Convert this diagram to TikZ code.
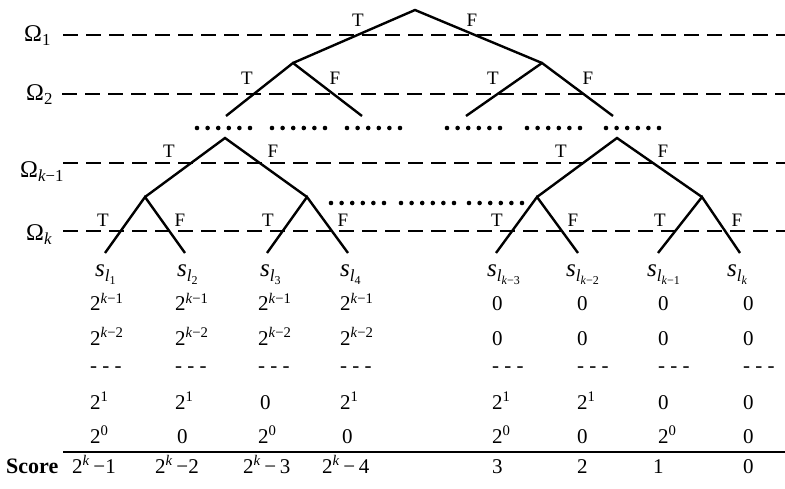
\documentclass[tikz,border=0pt]{standalone}
\usepackage{fontspec}
\setmainfont{Liberation Serif}
\newcommand\leafsym[1]{\textit{s}\raisebox{-5pt}{\fontsize{17}{17}\selectfont\textit{l}\raisebox{-2pt}{\fontsize{12}{12}\selectfont #1}}}
\begin{document}
\begin{tikzpicture}[x=1pt,y=-1pt,
  edge/.style={line width=2.4pt},
  level/.style={line width=1.9pt,dash pattern=on 15pt off 8pt},
  tf/.style={font=\fontsize{19}{19}\selectfont,anchor=base,inner sep=0pt},
  om/.style={font=\fontsize{24}{24}\selectfont,anchor=base west,inner sep=0pt},
  cell/.style={font=\fontsize{21}{21}\selectfont,anchor=base west,inner sep=0pt},
  leaf/.style={font=\fontsize{25}{25}\selectfont,anchor=base west,inner sep=0pt},
  dotf/.style={fill=black,draw=none}]
\useasboundingbox (0,0) rectangle (785,489);
% level lines
\coordinate (L1a) at (63,35);   \coordinate (L1b) at (785,35);
\coordinate (L2a) at (62,94);   \coordinate (L2b) at (785,94);
\coordinate (L3a) at (63,163);  \coordinate (L3b) at (785,163);
\coordinate (L4a) at (63,231);  \coordinate (L4b) at (785,231);
\draw[level] (L1a) -- (L1b);
\draw[level] (L2a) -- (L2b);
\draw[level] (L3a) -- (L3b);
\draw[level] (L4a) -- (L4b);
\node[om] (o1) at (24,42) {Ω\textsubscript{1}};
\node[om] (o2) at (26,101) {Ω\textsubscript{2}};
\node[om] (o3) at (20,178) {Ω\textsubscript{\textit{k}−1}};
\node[om] (o4) at (26,241) {Ω\textsubscript{\textit{k}}};
% tree
\coordinate (r) at (415,10);
\coordinate (a) at (293,63);  \coordinate (b) at (542,63);
\coordinate (a1) at (226,116); \coordinate (a2) at (362,116);
\coordinate (b1) at (466,116); \coordinate (b2) at (613,116);
\coordinate (c) at (225,138); \coordinate (d) at (617,138);
\coordinate (c1) at (145,197); \coordinate (c2) at (307,197);
\coordinate (d1) at (537,197); \coordinate (d2) at (702,197);
\coordinate (e1) at (105,253); \coordinate (e2) at (185,253);
\coordinate (e3) at (267,253); \coordinate (e4) at (348,253);
\coordinate (e5) at (496,253); \coordinate (e6) at (578,253);
\coordinate (e7) at (658,253); \coordinate (e8) at (740,253);
\draw[edge] (a) -- (r) -- (b);
\draw[edge] (a1) -- (a) -- (a2);
\draw[edge] (b1) -- (b) -- (b2);
\draw[edge] (c1) -- (c) -- (c2);
\draw[edge] (d1) -- (d) -- (d2);
\draw[edge] (e1) -- (c1) -- (e2);
\draw[edge] (e3) -- (c2) -- (e4);
\draw[edge] (e5) -- (d1) -- (e6);
\draw[edge] (e7) -- (d2) -- (e8);
% T/F labels
\node[tf] (t1) at (358,27) {T};  \node[tf] (f1) at (472,27) {F};
\node[tf] (t2) at (247,85) {T};  \node[tf] (f2) at (335,85) {F};
\node[tf] (t3) at (493,85) {T};  \node[tf] (f3) at (588,85) {F};
\node[tf] (t4) at (169,158) {T}; \node[tf] (f4) at (273,158) {F};
\node[tf] (t5) at (561,158) {T}; \node[tf] (f5) at (663,158) {F};
\node[tf] (t6) at (103,227) {T}; \node[tf] (f6) at (180,227) {F};
\node[tf] (t7) at (268,227) {T}; \node[tf] (f7) at (343,227) {F};
\node[tf] (t8) at (497,227) {T}; \node[tf] (f8) at (573,227) {F};
\node[tf] (t9) at (660,227) {T}; \node[tf] (f9) at (737,227) {F};
% dots
\foreach \gx in {197,272,347,447,527,606}
  \foreach \i in {0,...,5}
    \fill[dotf] (\gx+\i*10.6,128) circle (2.3pt);
\foreach \gx in {331,401,469}
  \foreach \i in {0,...,5}
    \fill[dotf] (\gx+\i*10.6,203) circle (2.3pt);
% leaves
\node[leaf] (s1) at (95,277) {\leafsym{1}};
\node[leaf] (s2) at (177,277) {\leafsym{2}};
\node[leaf] (s3) at (260,277) {\leafsym{3}};
\node[leaf] (s4) at (340,277) {\leafsym{4}};
\node[leaf] (s5) at (487,277) {\leafsym{\textit{k}−3}};
\node[leaf] (s6) at (566,277) {\leafsym{\textit{k}−2}};
\node[leaf] (s7) at (647,277) {\leafsym{\textit{k}−1}};
\node[leaf] (s8) at (727,277) {\leafsym{\textit{k}}};
% table rows
\foreach \x [count=\n] in {90,175,258,340} {
  \node[cell] (p\n a) at (\x,311) {2\textsuperscript{\textit{k}−1}};
  \node[cell] (p\n b) at (\x,345) {2\textsuperscript{\textit{k}−2}};
  \node[cell] (p\n c) at (\x,372) {- - -};
}
\foreach \x [count=\n] in {492,577,658,743} {
  \node[cell] (q\n a) at (\x,311) {0};
  \node[cell] (q\n b) at (\x,345) {0};
  \node[cell] (q\n c) at (\x,372) {- - -};
}
\node[cell] (p1d) at (90,409) {2\textsuperscript{1}};
\node[cell] (p2d) at (175,409) {2\textsuperscript{1}};
\node[cell] (p3d) at (260,409) {0};
\node[cell] (p4d) at (340,409) {2\textsuperscript{1}};
\node[cell] (q1d) at (492,409) {2\textsuperscript{1}};
\node[cell] (q2d) at (577,409) {2\textsuperscript{1}};
\node[cell] (q3d) at (658,409) {0};
\node[cell] (q4d) at (743,409) {0};
\node[cell] (p1e) at (90,443) {2\textsuperscript{0}};
\node[cell] (p2e) at (177,443) {0};
\node[cell] (p3e) at (258,443) {2\textsuperscript{0}};
\node[cell] (p4e) at (342,443) {0};
\node[cell] (q1e) at (492,443) {2\textsuperscript{0}};
\node[cell] (q2e) at (577,443) {0};
\node[cell] (q3e) at (658,443) {2\textsuperscript{0}};
\node[cell] (q4e) at (743,443) {0};
% rule
\coordinate (ra) at (63,452); \coordinate (rb) at (785,452);
\draw[line width=2.4pt] (ra) -- (rb);
% score
\node[cell,font=\fontsize{22}{22}\selectfont\bfseries] (sc) at (6,473) {Score};
\node[cell] (v1) at (72,473) {2\textsuperscript{\textit{k}}\,−1};
\node[cell] (v2) at (155,473) {2\textsuperscript{\textit{k}}\,−2};
\node[cell] (v3) at (243,473) {2\textsuperscript{\textit{k}}\,−\,3};
\node[cell] (v4) at (322,473) {2\textsuperscript{\textit{k}}\,−\,4};
\node[cell] (v5) at (492,473) {3};
\node[cell] (v6) at (577,473) {2};
\node[cell] (v7) at (653,473) {1};
\node[cell] (v8) at (743,473) {0};
\end{tikzpicture}
\end{document}
